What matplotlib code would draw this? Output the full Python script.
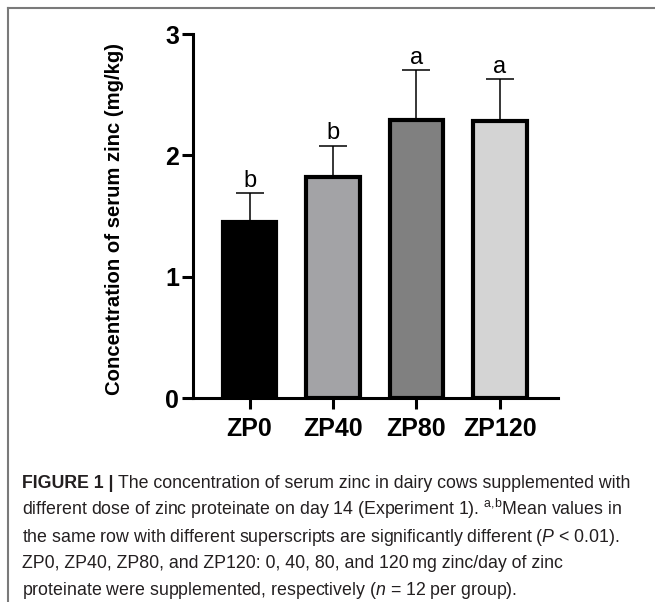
import matplotlib.pyplot as plt
from matplotlib.lines import Line2D

groups = ['ZP0', 'ZP40', 'ZP80', 'ZP120']
means = [1.45, 1.82, 2.29, 2.28]
sds = [0.24, 0.26, 0.41, 0.35]
letters = ['b', 'b', 'a', 'a']
colors = ['#000000', '#a3a3a6', '#808080', '#d4d4d4']

caption_rest = [
    'different dose of zinc proteinate on day 14 (Experiment 1). $^{\\mathrm{a{,}b}}$Mean values in',
    'the same row with different superscripts are significantly different ($P$ < 0.01).',
    'ZP0, ZP40, ZP80, and ZP120: 0, 40, 80, and 120\u2009mg zinc/day of zinc',
    'proteinate were supplemented, respectively ($n$ = 12 per group).',
]

plt.rcParams['font.family'] = ['Liberation Sans', 'DejaVu Sans']
plt.rcParams['mathtext.fontset'] = 'custom'
plt.rcParams['mathtext.rm'] = 'Liberation Sans'
plt.rcParams['mathtext.it'] = 'Liberation Sans:italic'

W, H = 655, 602
fig = plt.figure(figsize=(W / 100, H / 100), dpi=100)
ax = fig.add_axes([193 / W, 1 - 398 / H, (558 - 193) / W, (398 - 34) / H])

x = list(range(len(groups)))
ax.bar(x, means, width=0.64, color=colors, edgecolor='black', linewidth=3, zorder=2)
ax.errorbar(x, means, yerr=[[0] * 4, sds], fmt='none', ecolor='black',
            elinewidth=1.1, capsize=10, capthick=1.1, zorder=1)
for xi, m, s, l in zip(x, means, sds, letters):
    ax.annotate(l, (xi, m + s), xytext=(0, 1), textcoords='offset points',
                ha='center', va='bottom', fontsize=17)

ax.set_xlim(-0.677, 3.695)
ax.set_ylim(0, 3)
ax.set_yticks([0, 1, 2, 3])
ax.set_xticks(x)
ax.set_xticklabels(groups, fontsize=18, fontweight='bold')
for t in ax.get_yticklabels():
    t.set_fontsize(18)
    t.set_fontweight('bold')
for s in ['top', 'right']:
    ax.spines[s].set_visible(False)
for s in ['left', 'bottom']:
    ax.spines[s].set_linewidth(2.2)
ax.tick_params(axis='both', width=2.2, length=8)
ax.tick_params(axis='x', pad=6)
ax.tick_params(axis='y', pad=2)

fig.text(115 / W, 1 - 219 / H, 'Concentration of serum zinc (mg/kg)', rotation=90,
         ha='center', va='center', fontsize=14.6, fontweight='bold')

# frame lines
fig.add_artist(Line2D([8 / W, 1], [1 - 8 / H, 1 - 8 / H], color='#7a7a7a', lw=1.5))
fig.add_artist(Line2D([8 / W, 8 / W], [0, 1 - 8 / H], color='#7a7a7a', lw=1.5))

# caption
cx = 22 / W
fs = 12.8
base = 488
step = 26.8
t1 = fig.text(cx, 1 - base / H, 'FIGURE 1 |', fontsize=fs, fontweight='bold',
              ha='left', va='baseline', color='#231f20')
fig.canvas.draw()
bb = t1.get_window_extent()
fig.text((bb.x1 + 4) / W, 1 - base / H,
         'The concentration of serum zinc in dairy cows supplemented with',
         fontsize=fs, ha='left', va='baseline', color='#231f20')
for i, line in enumerate(caption_rest):
    fig.text(cx, 1 - (base + step * (i + 1)) / H, line, fontsize=fs,
             ha='left', va='baseline', color='#231f20')

fig.savefig('out.png', dpi=100)
